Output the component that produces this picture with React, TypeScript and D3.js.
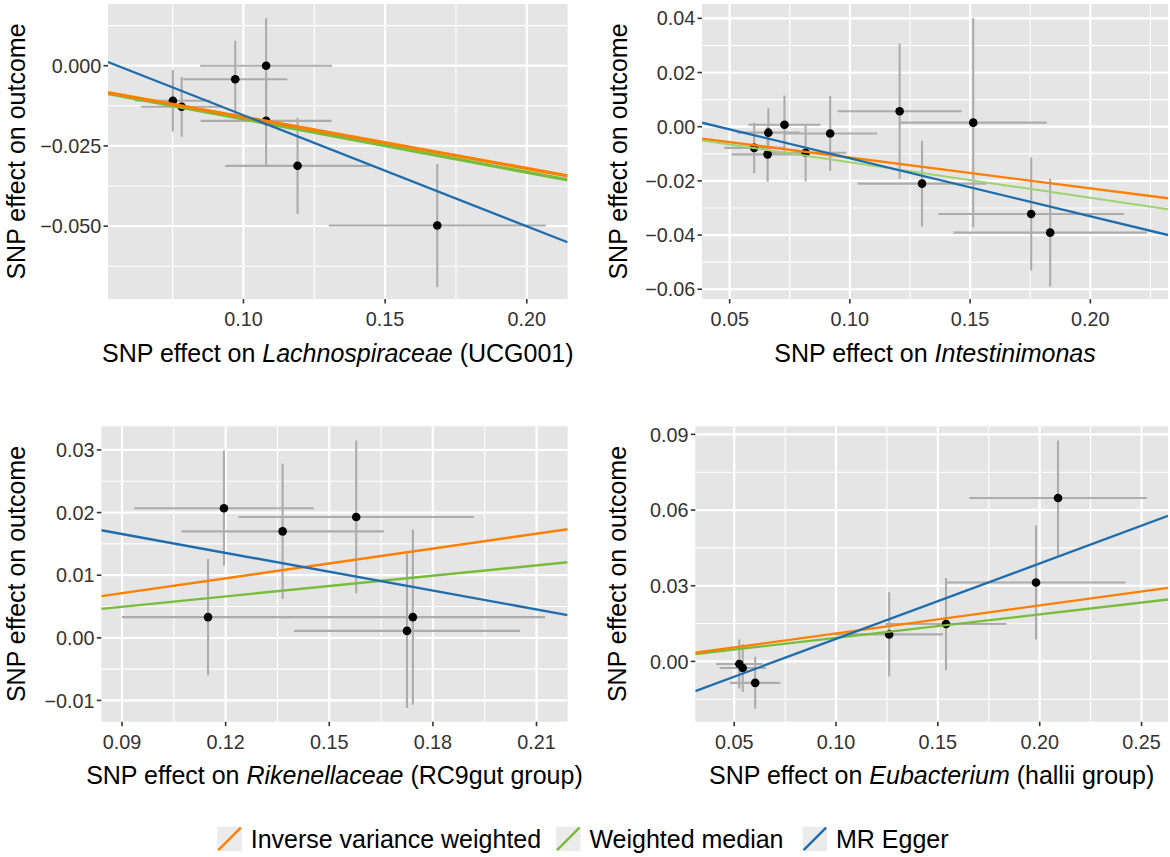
import React from "react";
import * as d3 from "d3";

// ---------- DATA ----------
// Panel 1: Lachnospiraceae (UCG001)
const lachX = [0.0751, 0.0782, 0.0971, 0.108, 0.108, 0.1191, 0.1684];
const lachY = [-0.0109, -0.0128, -0.0042, 0.0, -0.0172, -0.0312, -0.0498];
const lachXse = [0.0133, 0.0143, 0.0184, 0.0233, 0.0231, 0.0255, 0.0383];
const lachYse = [0.0096, 0.0093, 0.012, 0.0148, 0.0138, 0.015, 0.0192];
const lachLines = { ivw: -0.16, wm: -0.166, eggerSlope: -0.3462, eggerInt: 0.0192 };

// Panel 2: Intestinimonas
const intX = [0.0602, 0.0661, 0.0658, 0.0728, 0.0816, 0.0918, 0.1207, 0.13, 0.1513, 0.1754, 0.1833];
const intY = [-0.0078, -0.0022, -0.0102, 0.0007, -0.0096, -0.0025, 0.0057, -0.021, 0.0015, -0.0322, -0.0391];
const intXse = [0.0125, 0.013, 0.015, 0.015, 0.017, 0.0195, 0.0258, 0.0268, 0.0306, 0.0386, 0.0402];
const intYse = [0.0093, 0.009, 0.0101, 0.0108, 0.0106, 0.0138, 0.025, 0.0158, 0.0386, 0.0209, 0.0199];
const intLines = { ivw: -0.1137, wm: -0.1313, eggerSlope: -0.214, eggerInt: 0.00972 };

// Panel 3: Rikenellaceae (RC9gut group)
const rikX = [0.1195, 0.1365, 0.1578, 0.1149, 0.1742, 0.1725];
const rikY = [0.0207, 0.017, 0.0193, 0.0033, 0.0033, 0.0011];
const rikXse = [0.026, 0.0293, 0.0341, 0.0249, 0.0383, 0.0327];
const rikYse = [0.0092, 0.0108, 0.0122, 0.0093, 0.014, 0.0123];
const rikLines = { ivw: 0.0792, wm: 0.0551, eggerSlope: -0.1004, eggerInt: 0.02561 };

// Panel 4: Eubacterium (hallii group)
const eubX = [0.0525, 0.0542, 0.0603, 0.1261, 0.154, 0.1982, 0.209];
const eubY = [-0.001, -0.0026, -0.0085, 0.0107, 0.0148, 0.0313, 0.0648];
const eubXse = [0.0114, 0.0113, 0.0124, 0.0265, 0.0297, 0.0439, 0.0436];
const eubYse = [0.0097, 0.0095, 0.0103, 0.0167, 0.0183, 0.0226, 0.0228];
const eubLines = { ivw: 0.111, wm: 0.0933, eggerSlope: 0.2992, eggerInt: -0.021 };

// Ticks
const lachXTicks = [0.1, 0.15, 0.2];
const lachYTicks = [0.0, -0.025, -0.05];
const intXTicks = [0.05, 0.1, 0.15, 0.2];
const intYTicks = [0.04, 0.02, 0.0, -0.02, -0.04, -0.06];
const rikXTicks = [0.09, 0.12, 0.15, 0.18, 0.21];
const rikYTicks = [0.03, 0.02, 0.01, 0.0, -0.01];
const eubXTicks = [0.05, 0.1, 0.15, 0.2, 0.25];
const eubYTicks = [0.09, 0.06, 0.03, 0.0];

const legendLabels = ["Inverse variance weighted", "Weighted median", "MR Egger"];

// ---------- STYLE ----------
const W = 1170;
const H = 857;
const ORANGE = "#ff7f00";
const GREEN = "#78bd3a";
const GREEN_LIGHT = "#9dd46f";
const BLUE = "#1f6dac";
const PANEL_BG = "#e5e5e5";
const FONT = "'Liberation Sans', Arial, Helvetica, sans-serif";

type Panel = {
  id: string;
  rect: { l: number; r: number; t: number; b: number };
  xDomain: [number, number];
  yDomain: [number, number];
  xTicks: number[];
  yTicks: number[];
  xFmt: string;
  yFmt: string;
  x: number[];
  y: number[];
  xse: number[];
  yse: number[];
  lines: { ivw: number; wm: number; eggerSlope: number; eggerInt: number };
  title: [string, string, string];
  yTitleX: number;
  wmColor: string;
  lw: { ivw: number; wm: number; egger: number };
};

const panels: Panel[] = [
  {
    id: "p1",
    rect: { l: 108, r: 567.6, t: 4, b: 299 },
    xDomain: [0.0522, 0.2144],
    yDomain: [-0.0727, 0.01923],
    xTicks: lachXTicks,
    yTicks: lachYTicks,
    xFmt: ".2f",
    yFmt: ".3f",
    x: lachX, y: lachY, xse: lachXse, yse: lachYse,
    lines: lachLines,
    title: ["SNP effect on ", "Lachnospiraceae", " (UCG001)"],
    yTitleX: 24.6,
    wmColor: GREEN,
    lw: { ivw: 3.3, wm: 3.3, egger: 2.3 },
  },
  {
    id: "p2",
    rect: { l: 702, r: 1168, t: 4, b: 299 },
    xDomain: [0.0385, 0.2323],
    yDomain: [-0.0636, 0.0453],
    xTicks: intXTicks,
    yTicks: intYTicks,
    xFmt: ".2f",
    yFmt: ".2f",
    x: intX, y: intY, xse: intXse, yse: intYse,
    lines: intLines,
    title: ["SNP effect on ", "Intestinimonas", ""],
    yTitleX: 627,
    wmColor: GREEN_LIGHT,
    lw: { ivw: 2.3, wm: 2.0, egger: 2.3 },
  },
  {
    id: "p3",
    rect: { l: 101.3, r: 567.6, t: 426.3, b: 721.7 },
    xDomain: [0.084, 0.219],
    yDomain: [-0.0134, 0.03378],
    xTicks: rikXTicks,
    yTicks: rikYTicks,
    xFmt: ".2f",
    yFmt: ".2f",
    x: rikX, y: rikY, xse: rikXse, yse: rikYse,
    lines: rikLines,
    title: ["SNP effect on ", "Rikenellaceae", " (RC9gut group)"],
    yTitleX: 24.6,
    wmColor: GREEN,
    lw: { ivw: 2.4, wm: 2.4, egger: 2.4 },
  },
  {
    id: "p4",
    rect: { l: 695.3, r: 1168, t: 426.3, b: 721.7 },
    xDomain: [0.0309, 0.263],
    yDomain: [-0.0239, 0.0932],
    xTicks: eubXTicks,
    yTicks: eubYTicks,
    xFmt: ".2f",
    yFmt: ".2f",
    x: eubX, y: eubY, xse: eubXse, yse: eubYse,
    lines: eubLines,
    title: ["SNP effect on ", "Eubacterium", " (hallii group)"],
    yTitleX: 626,
    wmColor: GREEN,
    lw: { ivw: 2.3, wm: 2.3, egger: 2.3 },
  },
];

function minorTicks(major: number[], domain: [number, number]): number[] {
  const s = [...major].sort((a, b) => a - b);
  const step = s[1] - s[0];
  const out: number[] = [];
  for (let v = s[0] - step / 2; v <= s[s.length - 1] + step; v += step) {
    if (v > domain[0] && v < domain[1]) out.push(v);
  }
  return out;
}

function PanelView({ p }: { p: Panel }) {
  const { l, r, t, b } = p.rect;
  const xs = d3.scaleLinear().domain(p.xDomain).range([l, r]);
  const ys = d3.scaleLinear().domain(p.yDomain).range([b, t]);
  const xf = d3.format(p.xFmt);
  const yf = d3.format(p.yFmt);
  const xMinor = minorTicks(p.xTicks, p.xDomain);
  const yMinor = minorTicks(p.yTicks, p.yDomain);
  const idx = d3.range(p.x.length);
  const lineFor = (slope: number, intercept: number) => {
    const gen = d3
      .line<number>()
      .x((d) => xs(d))
      .y((d) => ys(intercept + slope * d));
    return gen(p.xDomain) || "";
  };
  const cx = (l + r) / 2;
  const cy = (t + b) / 2;
  return (
    <g>
      <defs>
        <clipPath id={`clip-${p.id}`}>
          <rect x={l} y={t} width={r - l} height={b - t} />
        </clipPath>
      </defs>
      <rect x={l} y={t} width={r - l} height={b - t} fill={PANEL_BG} />
      <g clipPath={`url(#clip-${p.id})`}>
        {yMinor.map((v, i) => (
          <line key={`ym${i}`} x1={l} x2={r} y1={ys(v)} y2={ys(v)} stroke="#fff" strokeWidth={1.1} />
        ))}
        {xMinor.map((v, i) => (
          <line key={`xm${i}`} y1={t} y2={b} x1={xs(v)} x2={xs(v)} stroke="#fff" strokeWidth={1.1} />
        ))}
        {p.yTicks.map((v, i) => (
          <line key={`yM${i}`} x1={l} x2={r} y1={ys(v)} y2={ys(v)} stroke="#fff" strokeWidth={2.2} />
        ))}
        {p.xTicks.map((v, i) => (
          <line key={`xM${i}`} y1={t} y2={b} x1={xs(v)} x2={xs(v)} stroke="#fff" strokeWidth={2.2} />
        ))}
        {idx.map((i) => (
          <line
            key={`ev${i}`}
            x1={xs(p.x[i])}
            x2={xs(p.x[i])}
            y1={ys(p.y[i] - p.yse[i])}
            y2={ys(p.y[i] + p.yse[i])}
            stroke="#acacac"
            strokeWidth={2.1}
          />
        ))}
        {idx.map((i) => (
          <line
            key={`eh${i}`}
            y1={ys(p.y[i])}
            y2={ys(p.y[i])}
            x1={xs(p.x[i] - p.xse[i])}
            x2={xs(p.x[i] + p.xse[i])}
            stroke="#acacac"
            strokeWidth={2.1}
          />
        ))}
        {idx.map((i) => (
          <circle key={`pt${i}`} cx={xs(p.x[i])} cy={ys(p.y[i])} r={4.3} fill="#000" />
        ))}
        <path d={lineFor(p.lines.wm, 0)} stroke={p.wmColor} strokeWidth={p.lw.wm} fill="none" />
        <path d={lineFor(p.lines.ivw, 0)} stroke={ORANGE} strokeWidth={p.lw.ivw} fill="none" />
        <path d={lineFor(p.lines.eggerSlope, p.lines.eggerInt)} stroke={BLUE} strokeWidth={p.lw.egger} fill="none" />
      </g>
      {/* y axis */}
      {p.yTicks.map((v, i) => (
        <g key={`yt${i}`}>
          <line x1={l - 4.5} x2={l} y1={ys(v)} y2={ys(v)} stroke="#333" strokeWidth={1.6} />
          <text
            x={l - 6.8}
            y={ys(v)}
            dy="0.36em"
            textAnchor="end"
            fontSize={19.8}
            fill="#333"
          >
            {yf(v)}
          </text>
        </g>
      ))}
      {/* x axis */}
      {p.xTicks.map((v, i) => (
        <g key={`xt${i}`}>
          <line y1={b} y2={b + 4.5} x1={xs(v)} x2={xs(v)} stroke="#333" strokeWidth={1.6} />
          <text x={xs(v)} y={b + 27} textAnchor="middle" fontSize={19.8} fill="#333">
            {xf(v)}
          </text>
        </g>
      ))}
      <text x={cx} y={b + 62.5} textAnchor="middle" fontSize={25} fill="#000" style={{ whiteSpace: "pre" }}>
        <tspan>{p.title[0]}</tspan>
        <tspan fontStyle="italic">{p.title[1]}</tspan>
        {p.title[2] ? <tspan>{p.title[2]}</tspan> : null}
      </text>
      <text
        transform={`translate(${p.yTitleX},${cy}) rotate(-90)`}
        textAnchor="middle"
        fontSize={25}
        fill="#000"
      >
        SNP effect on outcome
      </text>
    </g>
  );
}

function Legend() {
  const colors = [ORANGE, GREEN, BLUE];
  const keyX = [217.3, 556, 802.6];
  const keyY = 826.7;
  const keyS = 24.5;
  return (
    <g>
      {legendLabels.map((lab, i) => (
        <g key={lab}>
          <rect x={keyX[i]} y={keyY} width={keyS} height={keyS} fill="#ebebeb" />
          <line
            x1={keyX[i] + 1}
            y1={keyY + keyS - 1}
            x2={keyX[i] + keyS - 1}
            y2={keyY + 1}
            stroke={colors[i]}
            strokeWidth={2.4}
          />
          <text x={keyX[i] + 33.4} y={848.3} fontSize={25} fill="#000">
            {lab}
          </text>
        </g>
      ))}
    </g>
  );
}

export default function App() {
  return (
    <div style={{ position: "absolute", left: 0, top: 0, width: W, height: H, background: "#fff" }}>
      <svg width={W} height={H} viewBox={`0 0 ${W} ${H}`} style={{ display: "block", fontFamily: FONT }}>
        <rect x={0} y={0} width={W} height={H} fill="#fff" />
        {panels.map((p) => (
          <PanelView key={p.id} p={p} />
        ))}
        <Legend />
      </svg>
    </div>
  );
}
